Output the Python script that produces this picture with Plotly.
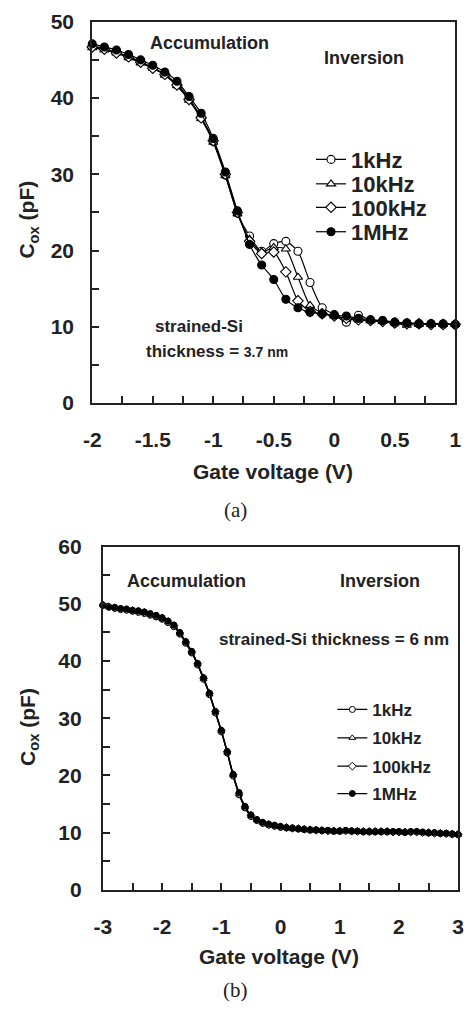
import plotly.graph_objects as go

# ---------------- data: panel (a), strained-Si 3.7 nm ----------------
vg_a = [-2.0, -1.9, -1.8, -1.7, -1.6, -1.5, -1.4, -1.3, -1.2, -1.1, -1.0,
        -0.9, -0.8, -0.7, -0.6, -0.5, -0.4, -0.3, -0.2, -0.1, 0.0,
        0.1, 0.2, 0.3, 0.4, 0.5, 0.6, 0.7, 0.8, 0.9, 1.0]
c_a_1khz = [46.8, 46.5, 46.0, 45.4, 44.8, 44.0, 43.1, 41.8, 39.9, 37.5, 34.3,
            29.9, 24.9, 21.9, 19.9, 20.9, 21.2, 19.9, 15.8, 12.5, 11.6,
            10.6, 11.5, 10.9, 10.8, 10.5, 10.5, 10.4, 10.4, 10.3, 10.3]
c_a_10khz = [46.6, 46.3, 45.9, 45.3, 44.6, 43.9, 43.0, 41.6, 39.7, 37.3, 34.2,
             29.8, 24.8, 21.5, 19.8, 20.4, 20.2, 16.5, 12.8, 11.8, 11.4,
             11.0, 10.9, 10.8, 10.7, 10.5, 10.2, 10.3, 10.3, 10.3, 10.3]
c_a_100khz = [46.7, 46.4, 45.9, 45.4, 44.7, 43.9, 43.1, 41.7, 39.8, 37.4, 34.4,
              30.0, 25.0, 21.2, 19.6, 19.8, 17.2, 13.4, 12.0, 11.7, 11.4,
              11.1, 10.9, 10.8, 10.7, 10.5, 10.4, 10.4, 10.3, 10.3, 10.3]
c_a_1mhz = [47.1, 46.7, 46.3, 45.7, 45.0, 44.3, 43.4, 42.2, 40.2, 38.0, 34.7,
            30.3, 25.2, 20.8, 18.1, 16.2, 13.6, 12.5, 11.9, 11.7, 11.5,
            11.4, 11.1, 10.9, 10.8, 10.6, 10.5, 10.4, 10.4, 10.4, 10.3]

# ---------------- data: panel (b), strained-Si 6 nm ----------------
vg_b = [-3.0, -2.9, -2.8, -2.7, -2.6, -2.5, -2.4, -2.3, -2.2, -2.1, -2.0,
        -1.9, -1.8, -1.7, -1.6, -1.5, -1.4, -1.3, -1.2, -1.1, -1.0,
        -0.9, -0.8, -0.7, -0.6, -0.5, -0.4, -0.3, -0.2, -0.1, 0.0,
        0.1, 0.2, 0.3, 0.4, 0.5, 0.6, 0.7, 0.8, 0.9, 1.0,
        1.1, 1.2, 1.3, 1.4, 1.5, 1.6, 1.7, 1.8, 1.9, 2.0,
        2.1, 2.2, 2.3, 2.4, 2.5, 2.6, 2.7, 2.8, 2.9, 3.0]
c_b_1khz = [49.7, 49.4, 49.2, 49.0, 48.9, 48.7, 48.5, 48.3, 48.0, 47.7, 47.3,
            46.7, 46.0, 44.7, 43.1, 41.4, 39.3, 36.8, 34.1, 30.9, 27.6,
            23.9, 19.9, 16.6, 14.3, 12.8, 12.1, 11.6, 11.3, 11.1, 10.9,
            10.8, 10.7, 10.6, 10.5, 10.4, 10.4, 10.3, 10.3, 10.2, 10.2,
            10.3, 10.2, 10.2, 10.1, 10.1, 10.1, 10.1, 10.1, 10.1, 10.1,
            10.0, 10.1, 10.1, 10.0, 9.9, 9.9, 9.8, 9.8, 9.7, 9.6]
c_b_10khz = [49.8, 49.5, 49.3, 49.1, 49.0, 48.8, 48.6, 48.4, 48.1, 47.8, 47.4,
             46.8, 46.1, 44.8, 43.2, 41.5, 39.4, 36.9, 34.2, 31.0, 27.7,
             24.0, 20.0, 16.7, 14.4, 12.9, 12.2, 11.7, 11.4, 11.2, 11.0,
             10.8, 10.7, 10.6, 10.5, 10.4, 10.4, 10.3, 10.3, 10.2, 10.2,
             10.3, 10.2, 10.2, 10.1, 10.1, 10.1, 10.1, 10.1, 10.1, 10.1,
             10.0, 10.1, 10.1, 10.0, 9.9, 9.9, 9.8, 9.8, 9.7, 9.6]
c_b_100khz = [49.8, 49.5, 49.3, 49.1, 49.0, 48.8, 48.7, 48.5, 48.2, 47.9, 47.5,
              46.9, 46.2, 44.9, 43.3, 41.6, 39.5, 37.0, 34.3, 31.1, 27.8,
              24.1, 20.1, 16.8, 14.5, 13.0, 12.2, 11.7, 11.4, 11.2, 11.0,
              10.9, 10.8, 10.7, 10.6, 10.5, 10.4, 10.4, 10.3, 10.3, 10.3,
              10.3, 10.3, 10.2, 10.2, 10.2, 10.2, 10.2, 10.2, 10.1, 10.1,
              10.1, 10.1, 10.1, 10.0, 10.0, 9.9, 9.9, 9.8, 9.7, 9.7]
c_b_1mhz = [49.8, 49.5, 49.4, 49.2, 49.1, 48.9, 48.8, 48.6, 48.3, 48.0, 47.6,
            47.0, 46.3, 45.0, 43.4, 41.7, 39.6, 37.1, 34.4, 31.2, 27.9,
            24.2, 20.2, 17.0, 14.6, 13.1, 12.3, 11.8, 11.5, 11.3, 11.1,
            10.9, 10.8, 10.7, 10.6, 10.5, 10.5, 10.4, 10.4, 10.3, 10.3,
            10.4, 10.3, 10.3, 10.2, 10.2, 10.2, 10.2, 10.2, 10.2, 10.2,
            10.1, 10.2, 10.2, 10.1, 10.0, 10.0, 9.9, 9.9, 9.8, 9.7]

series_names = ["1kHz", "10kHz", "100kHz", "1MHz"]
symbols = ["circle", "triangle-up", "diamond", "circle"]
fills = ["white", "white", "white", "black"]

# tick labels
xa_vals = [-2.0, -1.75, -1.5, -1.25, -1.0, -0.75, -0.5, -0.25, 0.0, 0.25, 0.5, 0.75, 1.0]
xa_text = ["-2", "", "-1.5", "", "-1", "", "-0.5", "", "0", "", "0.5", "", "1"]
ya_vals = [0, 5, 10, 15, 20, 25, 30, 35, 40, 45, 50]
ya_text = ["0", "", "10", "", "20", "", "30", "", "40", "", "50"]
xb_vals = [-3.0, -2.5, -2.0, -1.5, -1.0, -0.5, 0.0, 0.5, 1.0, 1.5, 2.0, 2.5, 3.0]
xb_text = ["-3", "", "-2", "", "-1", "", "0", "", "1", "", "2", "", "3"]
yb_vals = [0, 5, 10, 15, 20, 25, 30, 35, 40, 45, 50, 55, 60]
yb_text = ["0", "", "10", "", "20", "", "30", "", "40", "", "50", "", "60"]

W, H = 469, 1021
FONT = "Liberation Sans"

def px(x):
    return x / W

def py(y):
    return 1 - y / H

fig = go.Figure()

ser_a = [c_a_1khz, c_a_10khz, c_a_100khz, c_a_1mhz]
ser_b = [c_b_1khz, c_b_10khz, c_b_100khz, c_b_1mhz]

legend_rows_a = [151, 176, 200, 225]
legend_rows_b = [714, 743, 772, 800]

layout_legends = {}
for i in range(4):
    lname = "legend" if i == 0 else f"legend{i + 1}"
    fig.add_trace(go.Scatter(
        x=vg_a, y=ser_a[i], name=series_names[i], mode="lines+markers",
        line=dict(color="black", width=1.2, shape="spline", smoothing=0.6),
        marker=dict(symbol=symbols[i], size=8, color=fills[i],
                    line=dict(color="black", width=1.1)),
        xaxis="x", yaxis="y", legend=lname, cliponaxis=False,
    ))
    layout_legends[lname] = dict(
        x=px(312), y=py(legend_rows_a[i]), xanchor="left", yanchor="middle",
        bgcolor="rgba(0,0,0,0)", borderwidth=0,
        font=dict(family=FONT, size=22, color="#222", weight="bold"),
    )
for i in range(4):
    lname = f"legend{i + 5}"
    fig.add_trace(go.Scatter(
        x=vg_b, y=ser_b[i], name=series_names[i], mode="lines+markers",
        line=dict(color="black", width=1.2, shape="spline", smoothing=0.6),
        marker=dict(symbol=symbols[i], size=6, color=fills[i],
                    line=dict(color="black", width=1)),
        xaxis="x2", yaxis="y2", legend=lname, cliponaxis=False,
    ))
    layout_legends[lname] = dict(
        x=px(334), y=py(legend_rows_b[i]), xanchor="left", yanchor="middle",
        bgcolor="rgba(0,0,0,0)", borderwidth=0,
        font=dict(family=FONT, size=17, color="#222", weight="bold"),
    )

tickfont = dict(family=FONT, size=21, color="#222", weight="bold")
axis_common = dict(
    showgrid=False, zeroline=False, showline=True, linecolor="#222", linewidth=2,
    mirror=True, ticks="inside", ticklen=7, tickwidth=2, tickcolor="#222",
    tickfont=tickfont, tickmode="array",
)

fig.update_layout(
    width=W, height=H, margin=dict(l=0, r=0, t=0, b=0),
    paper_bgcolor="white", plot_bgcolor="white", showlegend=True,
    xaxis=dict(domain=[px(86), px(461)], range=[-2, 1], anchor="y",
               tickvals=xa_vals, ticktext=xa_text, ticklabelstandoff=17, **axis_common),
    yaxis=dict(domain=[py(400), py(10)], range=[0, 50], anchor="x",
               tickvals=ya_vals, ticktext=ya_text, ticklabelstandoff=12, **axis_common),
    xaxis2=dict(domain=[px(97), px(464)], range=[-3, 3], anchor="y2",
                tickvals=xb_vals, ticktext=xb_text, ticklabelstandoff=17, **axis_common),
    yaxis2=dict(domain=[py(898), py(547)], range=[0, 60], anchor="x2",
                tickvals=yb_vals, ticktext=yb_text, ticklabelstandoff=15, **axis_common),
    **layout_legends,
)

def ann(text, x, y, size, rot=0, family=FONT, weight="bold"):
    fig.add_annotation(text=text, x=px(x), y=py(y), xref="paper", yref="paper",
                       xanchor="center", yanchor="middle", showarrow=False, textangle=rot,
                       font=dict(family=family, size=size, color="#222", weight=weight))

# panel (a) texts
ann("Accumulation", 207, 32, 18)
ann("Inversion", 367, 47, 18)
ann("strained-Si", 196, 322, 17)
ann("thickness = <span style='font-size:14px'>3.7 nm</span>", 215, 347, 17)
ann("Gate voltage (V)", 273, 470, 21)
ann("C<sub>ox</sub> (pF)", 20, 212, 21, rot=-90)
ann("(a)", 234, 509, 21, family="Liberation Serif", weight="normal")

# panel (b) texts
ann("Accumulation", 183, 582, 18)
ann("Inversion", 383, 582, 18)
ann("strained-Si thickness = 6 nm", 336, 642, 17)
ann("Gate voltage (V)", 279, 966, 21)
ann("C<sub>ox</sub> (pF)", 20, 731, 21, rot=-90)
ann("(b)", 234, 1001, 21, family="Liberation Serif", weight="normal")

fig.write_html("out.html")
